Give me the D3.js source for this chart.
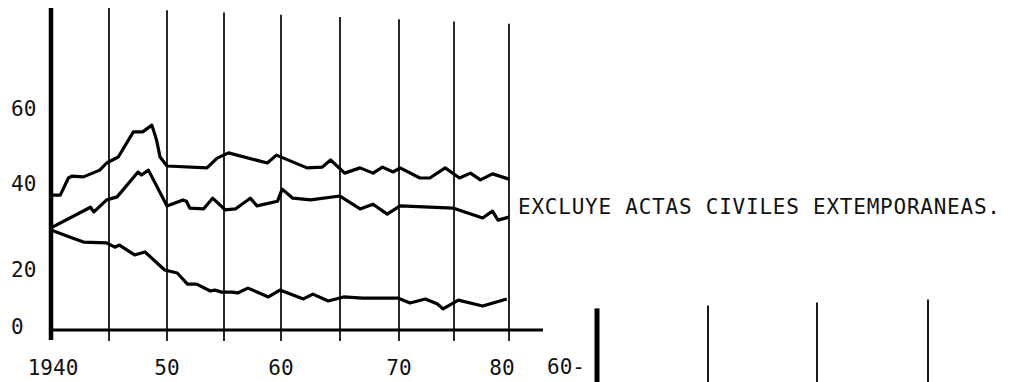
<!DOCTYPE html>
<html><head><meta charset="utf-8">
<script src="https://cdn.jsdelivr.net/npm/d3@7"></script>
<style>body{margin:0;background:#fff}svg{display:block}text{font-family:"DejaVu Sans Mono",monospace;fill:#111}</style>
</head><body><svg id="c" width="1021" height="382"></svg>
<script>
// ---- data ----
const yTicks = [0, 20, 40, 60];
const xTickLabels = ["1940", "50", "60", "70", "80"];
const xTickYears = [1940, 1950, 1960, 1970, 1980];
const gridYears = [1945, 1950, 1955, 1960, 1965, 1970, 1975, 1980];
const note = "EXCLUYE ACTAS CIVILES EXTEMPORANEAS.";
const upperYears = [1940,1940.8,1941.5,1941.8,1942.8,1944.2,1944.8,1945.8,1947.1,1947.9,1948.7,1949.1,1949.4,1950,1953.5,1954.4,1955.4,1958.8,1959.6,1962.2,1963.5,1964.2,1965.4,1966.7,1967.8,1968.6,1969.5,1970.1,1971.9,1972.8,1974.2,1975.5,1976.5,1977.4,1978.5,1980];
const upperVals  = [38.1,38.1,42.4,42.9,42.7,44.5,46.4,48.0,54.7,54.7,56.5,52.5,48.0,45.6,45.1,47.7,49.1,46.4,48.5,45.1,45.3,47.2,43.7,45.1,43.7,45.3,44.0,45.1,42.4,42.4,45.1,42.4,43.7,41.9,43.5,42.1];
const middleYears = [1940,1943.4,1943.7,1944.8,1945.7,1947.5,1947.8,1948.4,1950,1951.4,1951.7,1952,1953.2,1954,1955.1,1956,1957.3,1957.9,1959.7,1960.1,1961,1962.5,1965,1965.8,1966.7,1967.8,1969,1970.1,1974.9,1977.6,1978.5,1979,1980];
const middleVals  = [30.5,35.3,34.2,37.0,37.7,44.0,43.2,44.5,35.6,37.0,36.7,35.1,34.9,37.4,34.7,34.9,37.4,35.6,36.7,39.5,37.4,37.0,37.9,36.5,34.9,36.0,33.7,35.6,35.1,32.8,34.4,32.3,33.0];
const lowerYears = [1940,1941.6,1942.8,1944.8,1945.5,1945.9,1947.2,1948.1,1949.8,1950.9,1951.8,1952.6,1953.8,1954.2,1954.8,1955.7,1956.2,1957.1,1958.9,1959.9,1961.9,1962.7,1964,1965.3,1966.9,1969.9,1971,1972.4,1973.5,1974,1975.4,1977.6,1979.8];
const lowerVals  = [30.0,28.4,27.2,27.0,26.0,26.5,24.2,24.9,20.7,20.0,16.1,16.1,13.7,14.0,13.3,13.3,13.0,14.7,11.6,14.0,10.9,12.6,10.2,11.6,11.2,11.2,9.5,10.9,9.1,7.4,10.5,8.4,10.9];
// second chart fragment at bottom right
const frag2Years = [1940, 1950, 1960, 1970];
const frag2Tick = [60];

// ---- scales (hand-drawn original: piecewise linear) ----
const x = d3.scaleLinear().domain([1940,1950,1960,1970,1980]).range([51,167,281,399,509]);
const y = d3.scaleLinear().domain([0,20,40,60]).range([330,273,187,112]);
const x2 = d3.scaleLinear().domain([1940,1950,1960,1970]).range([597,708,817,928]);
const y2 = d3.scaleLinear().domain([60,70]).range([366,330]);

const svg = d3.select("#c");

// grid verticals
svg.selectAll("line.grid").data(gridYears).join("line")
  .attr("x1", d=>x(d)).attr("x2", d=>x(d))
  .attr("y1", d=>y(60)-104 + (d-1945)*0.45).attr("y2", y(0)+11)
  .attr("stroke","#111").attr("stroke-width",1.8);
// left axis
svg.append("line").attr("x1",x(1940)).attr("x2",x(1940)).attr("y1",y(60)-104).attr("y2",y(0)+10)
  .attr("stroke","#000").attr("stroke-width",4.5);
// bottom axis
svg.append("line").attr("x1",x(1940)).attr("x2",x(1980)+34).attr("y1",y(0)).attr("y2",y(0))
  .attr("stroke","#000").attr("stroke-width",3);

// y tick labels
svg.selectAll("text.yt").data(yTicks).join("text")
  .attr("x",11).attr("y",d=>y(d)-4).attr("dy","0.36em")
  .attr("font-size",21).text(d=>d);
// x tick labels
svg.selectAll("text.xt").data(xTickYears).join("text")
  .attr("x",(d,i)=> i===0 ? x(d)+2 : (i===4 ? x(d)-7 : x(d)))
  .attr("y",367).attr("dy","0.36em").attr("text-anchor","middle")
  .attr("font-size",21).text((d,i)=>xTickLabels[i]);

// series
const line = d3.line().x(d=>x(d[0])).y(d=>y(d[1])).curve(d3.curveLinear);
const series = [[upperYears,upperVals],[middleYears,middleVals],[lowerYears,lowerVals]];
svg.selectAll("path.s").data(series).join("path")
  .attr("d", s => line(s[0].map((yr,i)=>[yr, s[1][i]])))
  .attr("fill","none").attr("stroke","#000").attr("stroke-width",3.2)
  .attr("stroke-linejoin","round");

// note
svg.append("text").attr("x",518).attr("y",214).attr("font-size",21)
  .attr("textLength",482).attr("lengthAdjust","spacing").text(note);

// second chart fragment
svg.selectAll("line.f2").data(frag2Years).join("line")
  .attr("x1",d=>x2(d)).attr("x2",d=>x2(d))
  .attr("y1",(d,i)=>y2(76) + (i===0?0:-i*3)).attr("y2",382)
  .attr("stroke","#000").attr("stroke-width",(d,i)=>i===0?5:1.8);
svg.selectAll("text.f2").data(frag2Tick).join("text")
  .attr("x",x2(1940)-50).attr("y",d=>y2(d)).attr("dy","0.36em")
  .attr("font-size",21).text(d=>d+"-");
</script></body></html>
